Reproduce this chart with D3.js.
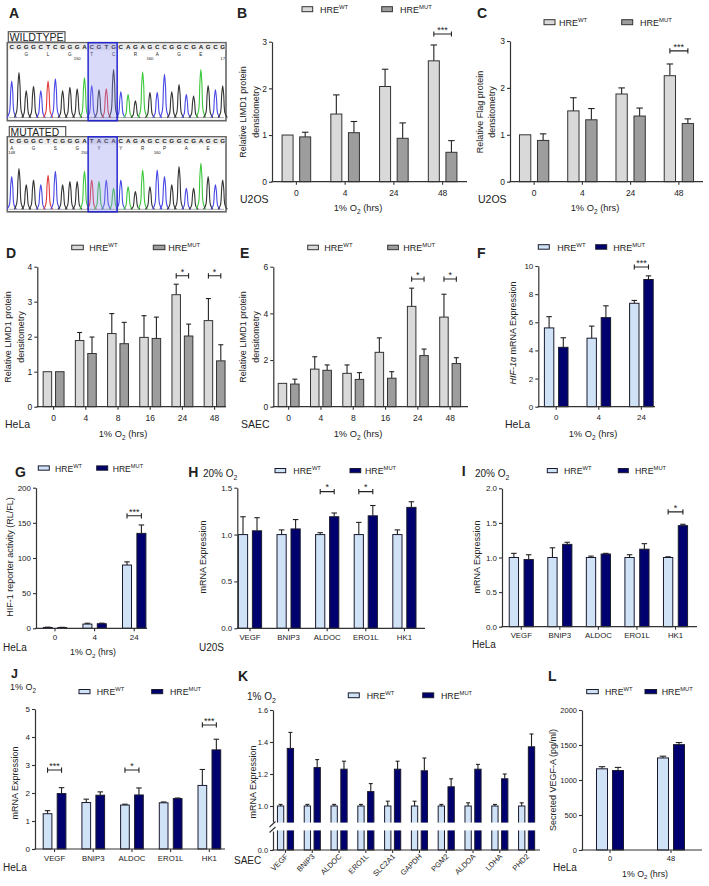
<!DOCTYPE html>
<html><head><meta charset="utf-8">
<script src="https://cdn.jsdelivr.net/npm/d3@7"></script>
<style>
body{margin:0;background:#fff}
svg{display:block}
text{font-family:"Liberation Sans",Arial,Helvetica,sans-serif;fill:#222}
</style>
</head><body>
<svg id="fig" width="709" height="886"></svg>
<script>
// ---------------- DATA ----------------
// Panel A: Sanger chromatograms
const seqWT  = "CGGGCTCGGGACGTGCAGAGCCGGCGAGCG".split("");
const seqMUT = "CGGGCTCGGGATACACAGAGCCGGCGAGCG".split("");
const peakWT  = [76,94,56,65,56,76,81,56,63,60,83,67,58,60,100,54,48,35,95,52,52,90,54,69,48,45,100,67,58,66];
const peakMUT = [68,85,51,61,51,71,79,51,58,58,79,61,58,61,44,61,47,37,82,47,82,68,51,89,44,44,96,68,51,61];
const aaWT  = ["G","L","G","T","C","R","A","G","E"];
const aaWTidx = [2,5,8,11,14,17,20,23,26];
const aaMUT = ["A","G","S","G","Y","Y","R","P","A","E"];
const aaMUTidx = [0,3,6,9,12,15,18,21,24,27];
const numsWT = [["150",9],["160",19],["17",29]];
const numsMUT = [["148",0],["150",10],["160",20]];
const hlStart = 11, hlEnd = 14;

// Panel B: U2OS LIMD1
const hrsU2OS = ["0","4","24","48"];
const limdU2OS_wt = [1.00,1.45,2.04,2.59];
const limdU2OS_wtErr = [0,0.41,0.37,0.34];
const limdU2OS_mut = [0.96,1.05,0.93,0.63];
const limdU2OS_mutErr = [0.10,0.24,0.33,0.25];
// Panel C: U2OS Flag
const flag_wt = [1.00,1.51,1.87,2.26];
const flag_wtErr = [0,0.28,0.13,0.25];
const flag_mut = [0.88,1.32,1.40,1.24];
const flag_mutErr = [0.14,0.24,0.17,0.10];
// Panel D: HeLa LIMD1
const hrsLong = ["0","4","8","16","24","48"];
const limdHeLa_wt = [1.00,1.89,2.09,1.98,3.20,2.46];
const limdHeLa_wtErr = [0,0.23,0.57,0.62,0.30,0.63];
const limdHeLa_mut = [1.00,1.52,1.80,1.95,2.02,1.31];
const limdHeLa_mutErr = [0,0.47,0.61,0.61,0.34,0.46];
// Panel E: SAEC LIMD1
const limdSAEC_wt = [1.00,1.61,1.43,2.33,4.30,3.84];
const limdSAEC_wtErr = [0,0.53,0.36,0.62,0.78,0.98];
const limdSAEC_mut = [0.97,1.56,1.17,1.22,2.19,1.85];
const limdSAEC_mutErr = [0.21,0.23,0.29,0.28,0.28,0.25];
// Panel F: HIF-1a mRNA
const hrsF = ["0","4","24"];
const hif_wt = [5.60,4.87,7.35];
const hif_wtErr = [0.80,0.86,0.20];
const hif_mut = [4.22,6.33,9.04];
const hif_mutErr = [0.68,0.84,0.26];
// Panel G: HIF-1 reporter
const rep_wt = [1.2,6.0,90];
const rep_wtErr = [0.4,1.2,4.5];
const rep_mut = [1.0,6.5,135];
const rep_mutErr = [0.4,0.8,12];
// Panels H, I, J: target genes
const genes5 = ["VEGF","BNIP3","ALDOC","ERO1L","HK1"];
const u2os20_wt = [1,1,1,1,1];
const u2os20_wtErr = [0.19,0.05,0.02,0.13,0.05];
const u2os20_mut = [1.04,1.06,1.19,1.20,1.29];
const u2os20_mutErr = [0.14,0.10,0.04,0.11,0.06];
const hela20_wt = [1,1,1,1,1];
const hela20_wtErr = [0.06,0.14,0.02,0.04,0.01];
const hela20_mut = [0.97,1.19,1.05,1.12,1.46];
const hela20_mutErr = [0.07,0.03,0.01,0.08,0.02];
const hela1_wt = [1.26,1.66,1.57,1.65,2.27];
const hela1_wtErr = [0.11,0.12,0.03,0.03,0.57];
const hela1_mut = [1.98,1.92,1.93,1.80,3.54];
const hela1_mutErr = [0.21,0.12,0.25,0.02,0.38];
// Panel K: SAEC 1% O2
const genes10 = ["VEGF","BNIP3","ALDOC","ERO1L","SLC2A1","GAPDH","PGM2","ALDOA","LDHA","PHD2"];
const saec_wt = [1,1,1,1,1,1,1,1,1,1];
const saec_wtErr = [0.01,0.01,0.01,0.01,0.03,0.03,0.01,0.02,0.01,0.02];
const saec_mut = [1.36,1.24,1.23,1.09,1.23,1.22,1.12,1.23,1.17,1.37];
const saec_mutErr = [0.10,0.05,0.05,0.05,0.05,0.08,0.05,0.03,0.03,0.08];
// Panel L: secreted VEGF-A
const hrsL = ["0","48"];
const vegf_wt = [1160,1315];
const vegf_wtErr = [30,25];
const vegf_mut = [1135,1505];
const vegf_mutErr = [45,30];

// ---------------- DRAWING ----------------
const svg = d3.select("#fig");
svg.append("rect").attr("width",709).attr("height",886).attr("fill","#fff");
const GRAY = {wt:"#d9d9d9", mut:"#9d9d9d", stroke:"#333"};
const BLUE = {wt:"#cfe2f6", mut:"#00006e", stroke:"#1a1a2e"};
const BASECOL = {A:"#3cc83c", C:"#4848e6", G:"#333333", T:"#e43c3c"};

function text(g, x, y, s, fs, opt = {}) {
  const t = g.append("text").attr("x", x).attr("y", y).attr("font-size", fs).text(s);
  if (opt.anchor) t.attr("text-anchor", opt.anchor);
  if (opt.weight) t.attr("font-weight", opt.weight);
  if (opt.fill) t.attr("fill", opt.fill);
  return t;
}
function o2Text(g, x, y, pre, post, fs, anchor) {
  const t = g.append("text").attr("x", x).attr("y", y).attr("font-size", fs);
  if (anchor) t.attr("text-anchor", anchor);
  t.append("tspan").text(pre + "O");
  t.append("tspan").attr("font-size", fs * 0.7).attr("dy", fs * 0.3).text("2");
  t.append("tspan").attr("dy", -fs * 0.3).text(post);
  return t;
}

// ----- Panel A -----
function chromatogram(c) {
  const g = svg.append("g");
  const xb = d3.scalePoint().domain(d3.range(c.seq.length)).range([11.7, 222.7]);
  const yp = d3.scaleLinear().domain([0, 100]).range([c.base, c.base - 48]);
  g.append("rect").attr("x", c.box[0]).attr("y", c.box[1]).attr("width", c.box[2]).attr("height", c.box[3])
    .attr("fill", "#fff").attr("stroke", "#555").attr("stroke-width", 1.2);
  text(g, c.box[0] + 1.2, c.box[1] + c.box[3] - 1.2, c.label, c.labelFs).attr("fill", "#111");
  g.append("rect").attr("x", 7.3).attr("y", c.frameTop).attr("width", 218.7).attr("height", c.frameH)
    .attr("fill", "#fff").attr("stroke", "#666").attr("stroke-width", 1.6);
  g.append("rect").attr("x", 8.2).attr("y", c.frameTop + 0.8).attr("width", 217).attr("height", 6.8).attr("fill", "#ececec");
  g.selectAll("text.base").data(c.seq).join("text")
    .attr("x", (d, i) => xb(i)).attr("y", c.frameTop + 6.6).attr("text-anchor", "middle")
    .attr("font-size", 6.2).attr("font-weight", "bold").attr("font-family", "DejaVu Sans Mono, monospace")
    .attr("fill", d => BASECOL[d] === "#333333" ? "#666" : BASECOL[d]).text(d => d);
  g.selectAll("text.aa").data(c.aa).join("text")
    .attr("x", (d, i) => xb(c.aaIdx[i])).attr("y", c.frameTop + 12.8).attr("text-anchor", "middle")
    .attr("font-size", 4.6).attr("fill", "#9a9a9a").text(d => d);
  g.selectAll("text.num").data(c.nums).join("text")
    .attr("x", d => xb(d[1])).attr("y", c.frameTop + 16.8).attr("text-anchor", "middle")
    .attr("font-size", 4.2).attr("fill", "#aaa").text(d => d[0]);
  g.append("line").attr("x1", 9).attr("x2", 224).attr("y1", c.base).attr("y2", c.base)
    .attr("stroke", "#7a7a7a").attr("stroke-width", 0.6);
  const line = d3.line().x(d => d[0]).y(d => d[1]).curve(d3.curveCatmullRom.alpha(0.5));
  const offs = [-4.6, -2.3, -1.0, 0, 1.0, 2.3, 4.6];
  const frac = [0, 0.14, 0.72, 1, 0.72, 0.14, 0];
  c.seq.forEach((b, i) => {
    const x0 = xb(i);
    const pts = offs.map((o, j) => [x0 + o, yp(c.peaks[i] * frac[j])]);
    g.append("path").attr("d", line(pts)).attr("fill", "none")
      .attr("stroke", BASECOL[b]).attr("stroke-width", 1.1);
  });
  g.append("rect").attr("x", xb(hlStart) - 3.6).attr("y", c.frameTop).attr("width", xb(hlEnd) - xb(hlStart) + 7.2)
    .attr("height", c.frameH).attr("fill", "#8c8cec").attr("fill-opacity", 0.33)
    .attr("stroke", "#2727d0").attr("stroke-width", 1.5);
}
text(svg, 9, 17.5, "A", 14, {weight: "bold"}).attr("fill", "#000");
chromatogram({seq: seqWT, peaks: peakWT, aa: aaWT, aaIdx: aaWTidx, nums: numsWT, label: "WILDTYPE", labelFs: 10.6,
  box: [8.3, 31.7, 56.7, 10.4], frameTop: 42.7, frameH: 78, base: 117.6});
chromatogram({seq: seqMUT, peaks: peakMUT, aa: aaMUT, aaIdx: aaMUTidx, nums: numsMUT, label: "MUTATED", labelFs: 10.4,
  box: [9.3, 126.6, 56.4, 10.2], frameTop: 136.8, frameH: 75, base: 209.3});

// ----- generic bar panel -----
function barPanel(c) {
  const pal = c.pal;
  const g = svg.append("g");
  const y0 = c.y0;
  let y, axes;
  if (c.broken) {
    const lo = d3.scaleLinear().domain(c.broken.lowDomain).range(c.broken.lowRange);
    const hi = d3.scaleLinear().domain(c.broken.highDomain).range(c.broken.highRange);
    y = v => (v <= c.broken.lowDomain[1] ? lo(v) : hi(v));
    axes = [[lo, c.broken.lowTicks], [hi, c.broken.highTicks]];
  } else {
    const s = d3.scaleLinear().domain(c.yDomain).range([y0, c.yTop]);
    y = s; axes = [[s, c.yTicks]];
  }
  const x = d3.scaleBand().domain(c.cats).range(c.band);
  const cx = (k, s) => x(k) + x.bandwidth() / 2 + (s === "wt" ? -c.off : c.off);
  const rows = [];
  c.cats.forEach((k, i) => {
    rows.push({k, s: "wt", v: c.wt[i], e: c.wtErr[i]});
    rows.push({k, s: "mut", v: c.mut[i], e: c.mutErr[i]});
  });
  const eb = rows.filter(d => d.e > 0);
  g.selectAll("line.err").data(eb).join("line")
    .attr("x1", d => cx(d.k, d.s)).attr("x2", d => cx(d.k, d.s))
    .attr("y1", d => y(d.v)).attr("y2", d => y(d.v + d.e))
    .attr("stroke", "#222").attr("stroke-width", 1.1);
  g.selectAll("line.cap").data(eb).join("line")
    .attr("x1", d => cx(d.k, d.s) - c.capW / 2).attr("x2", d => cx(d.k, d.s) + c.capW / 2)
    .attr("y1", d => y(d.v + d.e)).attr("y2", d => y(d.v + d.e))
    .attr("stroke", "#222").attr("stroke-width", 1.1);
  g.selectAll("rect.bar").data(rows).join("rect")
    .attr("x", d => cx(d.k, d.s) - c.barW / 2).attr("y", d => y(d.v))
    .attr("width", c.barW).attr("height", d => y0 - y(d.v))
    .attr("fill", d => pal[d.s]).attr("stroke", pal.stroke).attr("stroke-width", 1);
  if (c.broken) {
    g.append("rect").attr("x", c.axisX - 6).attr("y", c.broken.highRange[0] + 0.6)
      .attr("width", c.axisEnd - c.axisX + 8).attr("height", c.broken.lowRange[1] - c.broken.highRange[0] - 1.2)
      .attr("fill", "#fff");
  }
  axes.forEach(([s, ticks]) => {
    const ag = g.append("g").attr("transform", `translate(${c.axisX},0)`)
      .call(d3.axisLeft(s).tickValues(ticks).tickFormat(c.fmt).tickSize(3).tickSizeOuter(0).tickPadding(2));
    ag.attr("font-family", null).attr("font-size", null);
    ag.select(".domain").attr("stroke", "#333").attr("stroke-width", 1.2);
    ag.selectAll(".tick line").attr("stroke", "#333").attr("stroke-width", 1.1);
    ag.selectAll(".tick text").attr("font-size", c.tickFs).attr("fill", "#333");
  });
  if (c.broken) {
    const ax = c.axisX, a = c.broken.highRange[0], b = c.broken.lowRange[1];
    [a + 2.5, b - 1].forEach(yy => {
      g.append("line").attr("x1", ax - 3.5).attr("x2", ax + 2.5).attr("y1", yy + 2.5).attr("y2", yy - 3)
        .attr("stroke", "#333").attr("stroke-width", 1.1);
    });
  }
  g.append("line").attr("x1", c.axisX - 0.6).attr("x2", c.axisEnd).attr("y1", y0).attr("y2", y0)
    .attr("stroke", "#333").attr("stroke-width", 1.2);
  const xg = g.append("g").attr("transform", `translate(0,${y0})`)
    .call(d3.axisBottom(x).tickSize(3).tickPadding(c.xPad));
  xg.attr("font-family", null).attr("font-size", null);
  xg.select(".domain").remove();
  xg.selectAll(".tick line").attr("stroke", "#333").attr("stroke-width", 1.1);
  xg.selectAll(".tick text").attr("font-size", c.xFs || c.tickFs).attr("fill", "#333");
  if (c.rotate) {
    xg.selectAll(".tick text").attr("text-anchor", "end").attr("dy", null).attr("y", null)
      .attr("transform", "translate(3,7) rotate(-45)");
  }
  (c.sigs || []).forEach(sg => {
    const x1 = cx(sg.k, "wt"), x2 = cx(sg.k, "mut"), yy = y(sg.level);
    g.append("path").attr("d", `M${x1},${yy - 2.6}V${yy + 2.6}M${x1},${yy}H${x2}M${x2},${yy - 2.6}V${yy + 2.6}`)
      .attr("fill", "none").attr("stroke", "#222").attr("stroke-width", 1.1);
    text(g, (x1 + x2) / 2, yy - 1.2, sg.label, c.starFs || 9, {anchor: "middle"});
  });
  const L = c.legend;
  [["wt", "WT"], ["mut", "MUT"]].forEach(([s, lab]) => {
    g.append("rect").attr("x", L[s][0]).attr("y", L.y - L.h - 1.3).attr("width", L.w).attr("height", L.h)
      .attr("fill", pal[s]).attr("stroke", pal.stroke).attr("stroke-width", 1);
    const t = g.append("text").attr("x", L[s][1]).attr("y", L.y).attr("font-size", c.legFs);
    t.append("tspan").text("HRE");
    t.append("tspan").attr("dy", -c.legFs * 0.42).attr("font-size", c.legFs * 0.66).text(lab);
  });
  text(g, c.letter[1], c.letter[2], c.letter[0], c.letter[3] || 14, {weight: "bold"}).attr("fill", "#000");
  const yl = c.ylab;
  yl.lines.forEach((ln, i) => {
    const t = g.append("text").attr("transform", `translate(${yl.xs[i]},${yl.y}) rotate(-90)`)
      .attr("text-anchor", "middle").attr("dominant-baseline", "central").attr("font-size", yl.fs);
    if (ln.italic) {
      t.append("tspan").attr("font-style", "italic").text(ln.italic);
      t.append("tspan").text(ln.rest);
    } else t.text(ln);
  });
  if (c.xTitle) o2Text(g, c.xTitle.x, c.xTitle.y, "1% ", " (hrs)", c.xTitle.fs, "middle");
  if (c.cell) text(g, c.cell.x, c.cell.y, c.cell.t, c.cell.fs);
  if (c.o2) o2Text(g, c.o2.x, c.o2.y, c.o2.pre, "", c.o2.fs);
}

const fmtInt = d3.format("d"), fmt1 = d3.format(".1f");

// B
barPanel({pal: GRAY, cats: hrsU2OS, wt: limdU2OS_wt, wtErr: limdU2OS_wtErr, mut: limdU2OS_mut, mutErr: limdU2OS_mutErr,
  yDomain: [0, 3], y0: 181.7, yTop: 41.7, yTicks: [0, 1, 2, 3], fmt: fmtInt,
  axisX: 272, axisEnd: 467, band: [272, 467], barW: 11, off: 8.8, capW: 6.5, tickFs: 8.5, xPad: 5,
  letter: ["B", 237, 17.5], legend: {y: 13, w: 10.7, h: 5, wt: [302, 320], mut: [381.7, 400]}, legFs: 9,
  ylab: {lines: ["Relative LIMD1 protein", "densitometry"], xs: [243.3, 255.7], y: 112, fs: 9},
  xTitle: {x: 358, y: 211, fs: 9.3}, cell: {t: "U2OS", x: 240, y: 202.5, fs: 10.5},
  sigs: [{k: "48", level: 3.165, label: "***"}]});
// C
barPanel({pal: GRAY, cats: hrsU2OS, wt: flag_wt, wtErr: flag_wtErr, mut: flag_mut, mutErr: flag_mutErr,
  yDomain: [0, 3], y0: 181.7, yTop: 41, yTicks: [0, 1, 2, 3], fmt: fmtInt,
  axisX: 510, axisEnd: 703, band: [510, 703], barW: 11.3, off: 9, capW: 6.5, tickFs: 8.5, xPad: 5,
  letter: ["C", 477, 17.5], legend: {y: 26, w: 11, h: 5, wt: [544, 559], mut: [621.7, 640]}, legFs: 9,
  ylab: {lines: ["Relative Flag protein", "densitometry"], xs: [480, 492], y: 112, fs: 9},
  xTitle: {x: 595, y: 211, fs: 9.3}, cell: {t: "U2OS", x: 478, y: 202.5, fs: 10.5},
  sigs: [{k: "48", level: 2.79, label: "***"}]});
// D
barPanel({pal: GRAY, cats: hrsLong, wt: limdHeLa_wt, wtErr: limdHeLa_wtErr, mut: limdHeLa_mut, mutErr: limdHeLa_mutErr,
  yDomain: [0, 4], y0: 406.7, yTop: 266.7, yTicks: [0, 1, 2, 3, 4], fmt: fmtInt,
  axisX: 37.3, axisEnd: 226, band: [37.5, 230.7], barW: 8.5, off: 6.2, capW: 5, tickFs: 8.5, xPad: 5,
  letter: ["D", 6, 258], legend: {y: 251, w: 11.6, h: 4.5, wt: [71.7, 89.3], mut: [153.3, 168.3]}, legFs: 9,
  ylab: {lines: ["Relative LIMD1 protein", "densitometry"], xs: [8.3, 20.7], y: 337, fs: 9},
  xTitle: {x: 123, y: 437, fs: 9.3}, cell: {t: "HeLa", x: 5, y: 427.5, fs: 10.5},
  sigs: [{k: "24", level: 3.74, label: "*"}, {k: "48", level: 3.74, label: "*"}]});
// E
barPanel({pal: GRAY, cats: hrsLong, wt: limdSAEC_wt, wtErr: limdSAEC_wtErr, mut: limdSAEC_mut, mutErr: limdSAEC_mutErr,
  yDomain: [0, 6], y0: 406.7, yTop: 266.7, yTicks: [0, 2, 4, 6], fmt: fmtInt,
  axisX: 273.3, axisEnd: 468, band: [272.5, 466.3], barW: 8.5, off: 6.2, capW: 5, tickFs: 8.5, xPad: 5,
  letter: ["E", 240, 258], legend: {y: 251, w: 10.7, h: 4.5, wt: [307.7, 324.3], mut: [387.7, 403.3]}, legFs: 9,
  ylab: {lines: ["Relative LIMD1 protein", "densitometry"], xs: [243.3, 255.7], y: 337, fs: 9},
  xTitle: {x: 358, y: 437, fs: 9.3}, cell: {t: "SAEC", x: 241, y: 427.5, fs: 10.5},
  sigs: [{k: "24", level: 5.47, label: "*"}, {k: "48", level: 5.47, label: "*"}]});
// F
barPanel({pal: BLUE, cats: hrsF, wt: hif_wt, wtErr: hif_wtErr, mut: hif_mut, mutErr: hif_mutErr,
  yDomain: [0, 10], y0: 406.7, yTop: 266, yTicks: [0, 2, 4, 6, 8, 10], fmt: fmtInt,
  axisX: 538.3, axisEnd: 655, band: [534.9, 662.7], barW: 9.4, off: 7.1, capW: 5.5, tickFs: 8, xPad: 5,
  letter: ["F", 477, 258], legend: {y: 250.5, w: 11, h: 4.5, wt: [538.3, 557.3], mut: [595.7, 613.3]}, legFs: 9,
  ylab: {lines: [{italic: "HIF-1\u03b1", rest: " mRNA Expression"}], xs: [513], y: 333, fs: 9},
  xTitle: {x: 593, y: 437, fs: 9.3}, cell: {t: "HeLa", x: 505, y: 427.5, fs: 10.5},
  sigs: [{k: "24", level: 9.93, label: "***"}]});
// G
barPanel({pal: BLUE, cats: hrsF, wt: rep_wt, wtErr: rep_wtErr, mut: rep_mut, mutErr: rep_mutErr,
  yDomain: [0, 200], y0: 628.3, yTop: 487.7, yTicks: [0, 50, 100, 150, 200], fmt: fmtInt,
  axisX: 36, axisEnd: 147, band: [35.2, 154], barW: 9, off: 7.2, capW: 5.5, tickFs: 8, xPad: 3,
  letter: ["G", 15, 477], legend: {y: 471.5, w: 11, h: 4.3, wt: [38.3, 55], mut: [96.7, 112.7]}, legFs: 8.6,
  ylab: {lines: ["HIF-1 reporter activity (RL/FL)"], xs: [10], y: 557, fs: 9},
  xTitle: {x: 93, y: 655, fs: 8.8}, cell: {t: "HeLa", x: 3, y: 650.5, fs: 10},
  sigs: [{k: "24", level: 160, label: "***"}]});
// H
barPanel({pal: BLUE, cats: genes5, wt: u2os20_wt, wtErr: u2os20_wtErr, mut: u2os20_mut, mutErr: u2os20_mutErr,
  yDomain: [0, 1.5], y0: 628.3, yTop: 487.7, yTicks: [0, 0.5, 1.0, 1.5], fmt: fmt1,
  axisX: 237.3, axisEnd: 425, band: [230.7, 423.7], barW: 9.2, off: 7, capW: 5.5, tickFs: 8, xFs: 7.8, xPad: 3,
  letter: ["H", 188.3, 477], legend: {y: 474, w: 10.7, h: 4.2, wt: [275, 293.3], mut: [350, 365]}, legFs: 8.8,
  ylab: {lines: ["mRNA Expression"], xs: [203], y: 557, fs: 9},
  cell: {t: "U20S", x: 199, y: 650.5, fs: 10}, o2: {x: 203, y: 476.5, pre: "20% ", fs: 10},
  sigs: [{k: "ALDOC", level: 1.458, label: "*"}, {k: "ERO1L", level: 1.458, label: "*"}]});
// I
barPanel({pal: BLUE, cats: genes5, wt: hela20_wt, wtErr: hela20_wtErr, mut: hela20_mut, mutErr: hela20_mutErr,
  yDomain: [0, 2], y0: 626.7, yTop: 488.3, yTicks: [0, 0.5, 1.0, 1.5, 2.0], fmt: fmt1,
  axisX: 502, axisEnd: 697, band: [502, 694.8], barW: 9.3, off: 7.4, capW: 5.5, tickFs: 8, xFs: 7.8, xPad: 3,
  letter: ["I", 461.7, 475.5], legend: {y: 474, w: 10, h: 4.2, wt: [547.3, 564], mut: [618.3, 635]}, legFs: 8.8,
  ylab: {lines: ["mRNA Expression"], xs: [477], y: 557, fs: 9},
  cell: {t: "HeLa", x: 472, y: 647.5, fs: 10}, o2: {x: 475, y: 476.5, pre: "20% ", fs: 10},
  sigs: [{k: "HK1", level: 1.66, label: "*"}]});
// J
barPanel({pal: BLUE, cats: genes5, wt: hela1_wt, wtErr: hela1_wtErr, mut: hela1_mut, mutErr: hela1_mutErr,
  yDomain: [0, 5], y0: 849, yTop: 709, yTicks: [0, 1, 2, 3, 4, 5], fmt: fmtInt,
  axisX: 35, axisEnd: 225, band: [35.2, 228.7], barW: 8.7, off: 7, capW: 5.5, tickFs: 8, xFs: 7.8, xPad: 3,
  letter: ["J", 11, 678.3, 12.5], legend: {y: 695, w: 11, h: 4.2, wt: [79, 96.7], mut: [151.7, 170]}, legFs: 8.8,
  ylab: {lines: ["mRNA Expression"], xs: [15], y: 783, fs: 9},
  cell: {t: "HeLa", x: 3, y: 870.5, fs: 10}, o2: {x: 10, y: 690, pre: "1% ", fs: 9},
  sigs: [{k: "VEGF", level: 2.82, label: "***"}, {k: "ALDOC", level: 2.82, label: "*"}, {k: "HK1", level: 4.43, label: "***"}]});
// K
barPanel({pal: BLUE, cats: genes10, wt: saec_wt, wtErr: saec_wtErr, mut: saec_mut, mutErr: saec_mutErr,
  y0: 850, broken: {lowDomain: [0, 0.1], lowRange: [850, 831], lowTicks: [0],
    highDomain: [0.9, 1.6], highRange: [822, 710], highTicks: [1.0, 1.2, 1.4, 1.6]}, fmt: fmt1,
  axisX: 273, axisEnd: 540, band: [272.1, 540], barW: 6.3, off: 4.9, capW: 4, tickFs: 7.4, xFs: 7.5, xPad: 3, rotate: true,
  letter: ["K", 238, 680.5], legend: {y: 699, w: 11, h: 4.8, wt: [348.3, 366.7], mut: [422.7, 441]}, legFs: 8.8,
  ylab: {lines: ["mRNA Expression"], xs: [253], y: 782, fs: 9},
  cell: {t: "SAEC", x: 234, y: 863.5, fs: 10}, o2: {x: 247, y: 699.5, pre: "1% ", fs: 10}});
// L
barPanel({pal: BLUE, cats: hrsL, wt: vegf_wt, wtErr: vegf_wtErr, mut: vegf_mut, mutErr: vegf_mutErr,
  yDomain: [0, 2000], y0: 850, yTop: 710, yTicks: [0, 500, 1000, 1500, 2000], fmt: fmtInt,
  axisX: 582, axisEnd: 702, band: [579.5, 701.5], barW: 11, off: 8, capW: 6.5, tickFs: 7.5, xPad: 3,
  letter: ["L", 548, 680.5], legend: {y: 695, w: 11.6, h: 4.2, wt: [586.7, 605], mut: [645, 661.7]}, legFs: 8.8,
  ylab: {lines: ["Secreted VEGF-A (pg/ml)"], xs: [553], y: 780, fs: 9},
  xTitle: {x: 645, y: 876.5, fs: 8.8}, cell: {t: "HeLa", x: 553, y: 870.5, fs: 10}});
</script>
</body></html>
